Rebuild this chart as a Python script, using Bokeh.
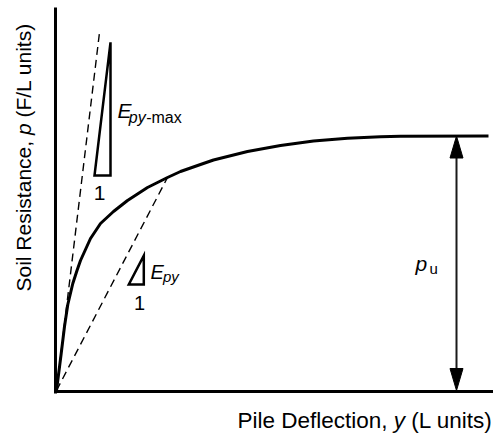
import math
from bokeh.plotting import figure
from bokeh.models import Range1d, Label, LinearAxis, FixedTicker
from bokeh.embed import file_html
from bokeh.resources import INLINE

# p-y curve (deflection y, soil resistance p), arbitrary units
deflection = [0, 4.7, 8, 11.3, 16.3, 20.5, 24, 34, 44, 57, 71, 91, 111, 124, 144,
              157, 191, 224, 257, 291, 324, 344, 432]
resistance = [0, 37, 64, 86, 107, 120, 130, 152, 167, 179, 190, 203, 213, 219, 226,
              230.5, 239, 245, 249.5, 252.3, 253.7, 254.2, 254.5]

# initial tangent (E_py-max) and secant (E_py) dashed lines
tangent_defl = [0, 43]
tangent_res = [0, 358]
secant_defl = [0, 111]
secant_res = [0, 213]

pu = resistance[-1]
slope_max = tangent_res[1] / tangent_defl[1]
slope_sec = secant_res[1] / secant_defl[1]

FONT = "Liberation Sans"

p = figure(width=493, height=435, x_range=Range1d(-56, 437), y_range=Range1d(-45, 390),
           output_backend="svg", toolbar_location=None,
           x_axis_location=None, y_axis_location=None, min_border=0)
p.grid.visible = False
p.outline_line_color = None
p.background_fill_color = "white"
p.border_fill_color = "white"

xax = LinearAxis(fixed_location=-1, bounds=(-2.5, 437))
yax = LinearAxis(fixed_location=-1, bounds=(-2.5, 383))
for ax in (xax, yax):
    ax.ticker = FixedTicker(ticks=[])
    ax.major_tick_line_color = None
    ax.minor_tick_line_color = None
    ax.major_tick_out = 0
    ax.major_tick_in = 0
    ax.minor_tick_out = 0
    ax.minor_tick_in = 0
    ax.major_label_standoff = 0
    ax.major_label_text_font_size = "0px"
    ax.axis_line_width = 3
    ax.axis_line_color = "black"
    ax.axis_line_cap = "butt"
p.add_layout(xax, "below")
p.add_layout(yax, "left")

# dashed stiffness lines
p.line(tangent_defl, tangent_res, line_color="black", line_width=1.4, line_dash="8 5")
p.line(secant_defl, secant_res, line_color="black", line_width=1.4, line_dash="8 5")

# p-y curve
p.line(deflection, resistance, line_color="black", line_width=3, line_join="round")

# slope triangles
def slope_triangle(x_right, y_base, width, slope):
    return ([x_right - width, x_right, x_right], [y_base, y_base, y_base + slope * width])

t1x, t1y = slope_triangle(54, 215, 16, slope_max)
t2x, t2y = slope_triangle(87.3, 106, 15, slope_sec)
p.patches([t1x, t2x], [t1y, t2y], fill_color=None, line_color="black",
          line_width=2.5, line_join="miter")

# p_u dimension arrow
ax_x = 400
hl, hw = 22, 13
p.segment(x0=[ax_x], y0=[hl], x1=[ax_x], y1=[pu - hl], line_width=2, line_color="#1a1a1a")
p.patches([[ax_x, ax_x - hw / 2, ax_x + hw / 2], [ax_x, ax_x - hw / 2, ax_x + hw / 2]],
          [[pu, pu - hl, pu - hl], [0, hl, hl]],
          fill_color="black", line_color="black", line_width=1)

SHIFT = 5  # baseline correction

def lab(x, y, text, size, style="normal", align="left", angle=0):
    if angle:
        x = x - SHIFT
    else:
        y = y + SHIFT
    p.add_layout(Label(x=x, y=y, text=text, text_font=FONT, text_font_size=size,
                       text_font_style=style, text_align=align, text_baseline="alphabetic",
                       text_color="black", angle=angle))

# slope labels
lab(43, 193, "1", "21px", align="center")
lab(83, 83, "1", "20px", align="center")
lab(61, 275, "E", "21px", "italic")
lab(72.3, 268, "py", "16px", "italic")
lab(89.7, 268, "-max", "16px")
lab(94, 113.3, "E", "20px", "italic")
lab(106.5, 109, "py", "15px", "italic")

# p_u label
lab(359, 122, "p", "21px", "italic")
lab(373, 117, "u", "15px")

# axis titles
fs = 22.5
x0 = 181
lab(x0, -35, "Pile Deflection,", f"{fs}px")
lab(x0 + 6.669 * fs + 0.278 * fs, -35, "y", f"{fs}px", "italic")
lab(x0 + 6.669 * fs + 0.278 * fs * 2 + 0.5 * fs, -35, "(L units)", f"{fs}px")

fy = 21
yb = 99
lab(-28.5, yb, "Soil Resistance,", f"{fy}px", angle=math.pi / 2)
lab(-28.5, yb + 7.169 * fy + 0.278 * fy, "p", f"{fy}px", "italic", angle=math.pi / 2)
lab(-28.5, yb + 7.169 * fy + 0.278 * fy * 2 + 0.556 * fy, "(F/L units)", f"{fy}px",
    angle=math.pi / 2)

open("out.html", "w").write(file_html(p, INLINE))
